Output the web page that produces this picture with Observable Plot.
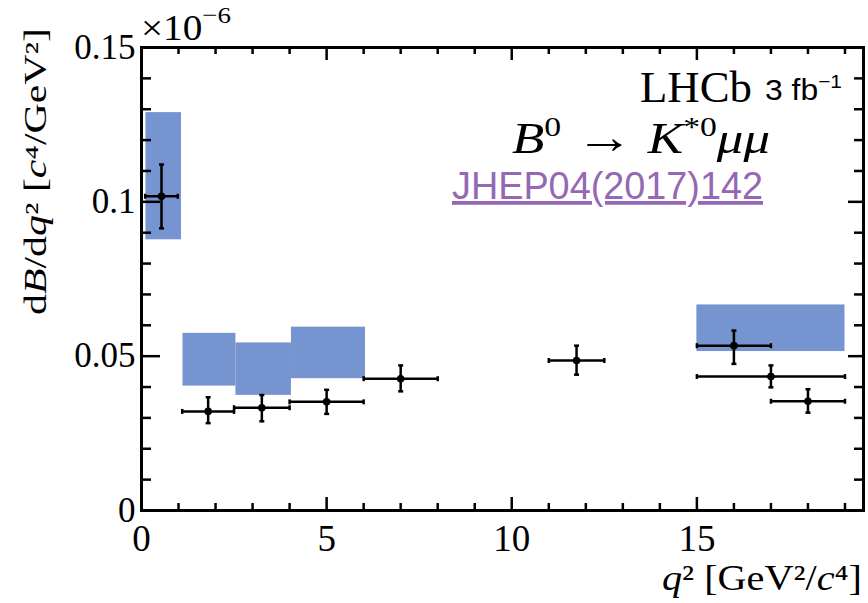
<!DOCTYPE html>
<html>
<head>
<meta charset="utf-8">
<script src="https://cdn.jsdelivr.net/npm/d3@7"></script>
<script src="https://cdn.jsdelivr.net/npm/@observablehq/plot@0.6"></script>
<style>
  html, body { margin: 0; padding: 0; background: white; }
</style>
</head>
<body>
<div id="chart"></div>
<script>
// ---- data ----
// LHCb measurements: q2 bin edges, bin centres, dB/dq2 (x1e-6) with errors
const ptBinLo = [0.1, 1.1, 2.5, 4.0, 6.0, 11.0, 15.0, 15.0, 17.0];
const ptBinHi = [0.98, 2.5, 4.0, 6.0, 8.0, 12.5, 17.0, 19.0, 19.0];
const ptX     = [0.54, 1.8, 3.25, 5.0, 7.0, 11.75, 16.0, 17.0, 18.0];
const ptY     = [0.1018, 0.0321, 0.0333, 0.0352, 0.0427, 0.0486, 0.0534, 0.0434, 0.0354];
const ptYlo   = [0.0914, 0.0283, 0.0289, 0.0313, 0.0386, 0.0440, 0.0475, 0.0399, 0.0317];
const ptYhi   = [0.1121, 0.0367, 0.0374, 0.0391, 0.0470, 0.0534, 0.0583, 0.0470, 0.0393];

// SM prediction boxes
const boxX1 = [0.12, 1.12, 2.55, 4.05, 15.0];
const boxX2 = [1.08, 2.55, 4.05, 6.05, 19.0];
const boxY1 = [0.0877, 0.0403, 0.0373, 0.0427, 0.0515];
const boxY2 = [0.1289, 0.0574, 0.0543, 0.0594, 0.0666];

// axis ticks
const xMajor = [0, 5, 10, 15];
const xMinor = [1, 2, 3, 4, 6, 7, 8, 9, 11, 12, 13, 14, 16, 17, 18, 19];
const yMajor = [0, 0.05, 0.1, 0.15];
const yMinor = [0.01, 0.02, 0.03, 0.04, 0.06, 0.07, 0.08, 0.09, 0.11, 0.12, 0.13, 0.14];

// ---- tables ----
const points = ptX.map((x, i) => ({x, xlo: ptBinLo[i], xhi: ptBinHi[i], y: ptY[i], ylo: ptYlo[i], yhi: ptYhi[i]}));
const boxes = boxX1.map((x1, i) => ({x1, x2: boxX2[i], y1: boxY1[i], y2: boxY2[i]}));

const W = 868, H = 603;
const mL = 141, mR = 5, mT = 47, mB = 93;
const pw = W - mL - mR, ph = H - mT - mB;
const SERIF = "'Liberation Serif', 'Times New Roman', serif";
const SANS = "'Liberation Sans', Arial, sans-serif";

const hcap = {draw(ctx, size) { const r = Math.sqrt(size / Math.PI); ctx.moveTo(-r, 0); ctx.lineTo(r, 0); }};
const vcap = {draw(ctx, size) { const r = Math.sqrt(size / Math.PI); ctx.moveTo(0, -r); ctx.lineTo(0, r); }};

const chart = Plot.plot({
  width: W, height: H,
  marginLeft: mL, marginRight: mR, marginTop: mT, marginBottom: mB,
  style: `font-family: ${SERIF}; color: black; background: white; overflow: visible;`,
  x: {domain: [0, 19.5]},
  y: {domain: [0, 0.15]},
  marks: [
    Plot.rect(boxes, {x1: "x1", x2: "x2", y1: "y1", y2: "y2", fill: "#7694cf"}),
    Plot.ruleY(points, {y: "y", x1: "xlo", x2: "xhi", stroke: "black", strokeWidth: 2.5}),
    Plot.ruleX(points, {x: "x", y1: "ylo", y2: "yhi", stroke: "black", strokeWidth: 2.5}),
    Plot.dot(points, {x: "x", y: "yhi", symbol: hcap, r: 2.5, fill: "none", stroke: "black", strokeWidth: 2.5}),
    Plot.dot(points, {x: "x", y: "ylo", symbol: hcap, r: 2.5, fill: "none", stroke: "black", strokeWidth: 2.5}),
    Plot.dot(points, {x: "xlo", y: "y", symbol: vcap, r: 2.5, fill: "none", stroke: "black", strokeWidth: 2.5}),
    Plot.dot(points, {x: "xhi", y: "y", symbol: vcap, r: 2.5, fill: "none", stroke: "black", strokeWidth: 2.5}),
    Plot.dot(points, {x: "x", y: "y", r: 3.8, fill: "black", stroke: "none"}),
    // inward ticks: bottom / top
    Plot.tickX(xMajor, {x: d => d, insetTop: ph - 13, stroke: "black", strokeWidth: 2.5}),
    Plot.tickX(xMinor, {x: d => d, insetTop: ph - 7, stroke: "black", strokeWidth: 2.5}),
    Plot.tickX(xMajor, {x: d => d, insetBottom: ph - 13, stroke: "black", strokeWidth: 2.5}),
    Plot.tickX(xMinor, {x: d => d, insetBottom: ph - 7, stroke: "black", strokeWidth: 2.5}),
    // inward ticks: left / right
    Plot.tickY(yMajor, {y: d => d, insetRight: pw - 19, stroke: "black", strokeWidth: 2.5}),
    Plot.tickY(yMinor, {y: d => d, insetRight: pw - 10, stroke: "black", strokeWidth: 2.5}),
    Plot.tickY(yMajor, {y: d => d, insetLeft: pw - 15, stroke: "black", strokeWidth: 2.5}),
    Plot.tickY(yMinor, {y: d => d, insetLeft: pw - 9, stroke: "black", strokeWidth: 2.5}),
    Plot.frame({stroke: "black", strokeWidth: 3}),
    Plot.axisX({ticks: xMajor, tickSize: 0, tickPadding: 14, fontSize: 37, fontFamily: SERIF, label: null, tickFormat: d => String(d)}),
    Plot.axisY({ticks: yMajor, tickSize: 0, tickPadding: 6, fontSize: 35, fontFamily: SERIF, label: null, tickFormat: d => String(d)})
  ]
});

document.getElementById("chart").appendChild(chart);

// ---- annotations / axis titles ----
const svg = d3.select(chart);

function addText(parts, attrs) {
  const t = svg.append("text").attr("text-anchor", "start");
  for (const [k, v] of Object.entries(attrs)) t.attr(k, v);
  for (const p of parts) {
    const s = t.append("tspan").text(p.t);
    if (p.italic) s.attr("font-style", "italic");
    if (p.size) s.attr("font-size", p.size);
    if (p.dy) s.attr("dy", p.dy);
    if (p.fam) s.attr("font-family", p.fam);
  }
  return t;
}

// exponent label
addText([{t: "×10"}, {t: "−6", size: 24, dy: -17}], {
  x: 141, y: 40, "font-family": SERIF, "font-size": 35, fill: "black",
  textLength: 90, lengthAdjust: "spacingAndGlyphs"
});

// y title
addText([
  {t: "d"}, {t: "B", italic: true}, {t: "/d"}, {t: "q", italic: true}, {t: "² ["},
  {t: "c", italic: true}, {t: "⁴/GeV²]"}
], {
  transform: "translate(46,315) rotate(-90)", "font-family": SERIF,
  "font-size": 31, fill: "black",
  textLength: 287, lengthAdjust: "spacingAndGlyphs"
});

// x title
addText([
  {t: "q", italic: true}, {t: "² [GeV²/"}, {t: "c", italic: true}, {t: "⁴]"}
], {
  x: 662, y: 590, "font-family": SERIF, "font-size": 35, fill: "black",
  textLength: 200, lengthAdjust: "spacingAndGlyphs"
});

// LHCb
addText([{t: "LHCb"}], {
  x: 640, y: 102, "font-family": SERIF, "font-size": 45, fill: "black",
  textLength: 112, lengthAdjust: "spacingAndGlyphs"
});
addText([{t: "3 fb"}, {t: "−1", size: 19, dy: -12}], {
  x: 765, y: 100, "font-family": SANS, "font-size": 29, fill: "black",
  textLength: 77, lengthAdjust: "spacingAndGlyphs"
});

// decay
addText([
  {t: "B", italic: true}, {t: "0", size: 28, dy: -17}, {t: " → ", dy: 17, size: 48},
  {t: "K", italic: true}, {t: "*0", size: 28, dy: -17}, {t: "μμ", italic: true, dy: 17}
], {
  x: 512, y: 153, "font-family": SERIF, "font-size": 44, fill: "black",
  textLength: 258, lengthAdjust: "spacingAndGlyphs"
});

// reference link
addText([{t: "JHEP04(2017)142"}], {
  x: 452, y: 199, "font-family": SANS, "font-size": 38, fill: "#9468b4",
  "text-decoration": "underline", textLength: 311, lengthAdjust: "spacingAndGlyphs"
});
</script>
</body>
</html>
